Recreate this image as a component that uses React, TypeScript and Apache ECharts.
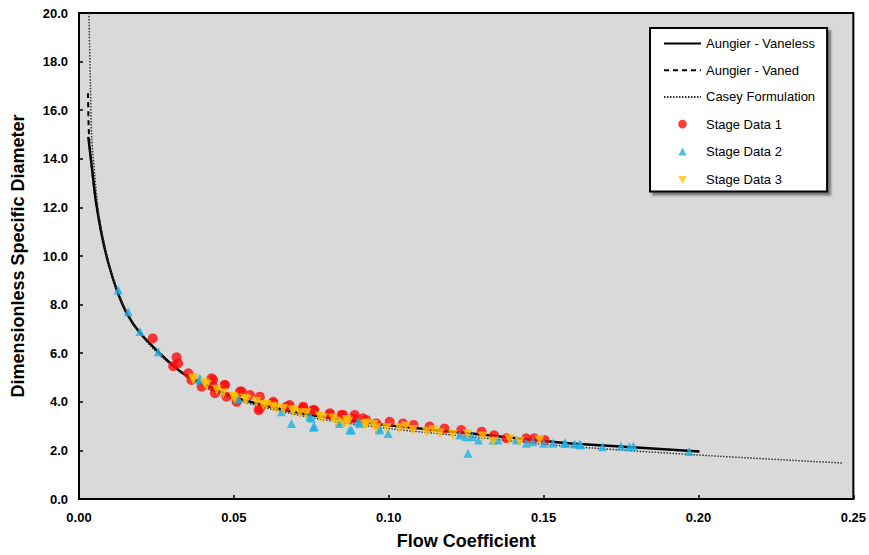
import React, { useEffect, useRef } from "react";
import * as echarts from "echarts";

const xTicks = [0, 0.05, 0.1, 0.15, 0.2, 0.25];
const yTicks = [0, 2, 4, 6, 8, 10, 12, 14, 16, 18, 20];

const vanelessCurve: [number, number][] = [
  [0.003, 14.9], [0.0042, 13.6], [0.0054, 12.3], [0.0073, 10.9], [0.0095, 9.7],
  [0.0122, 8.6], [0.0154, 7.65], [0.0197, 6.83], [0.0277, 5.8], [0.0335, 5.18],
  [0.04, 4.75], [0.05, 4.2], [0.06, 3.85], [0.075, 3.46], [0.09, 3.2],
  [0.1, 3.03], [0.125, 2.72], [0.155, 2.33], [0.18, 2.12], [0.2003, 1.95],
];

const vanedCurve: [number, number][] = [
  [0.0029, 16.7], [0.0031, 15.4], [0.0034, 14.6], [0.0042, 13.6], [0.0054, 12.3], [0.0073, 10.9],
];

const caseyCurve: [number, number][] = [
  [0.0032, 20.0], [0.0037, 17.0], [0.0041, 14.9], [0.0051, 13.3], [0.0062, 11.9],
  [0.0078, 10.7], [0.0098, 9.6], [0.0125, 8.5], [0.0157, 7.6], [0.02, 6.75],
  [0.028, 5.7], [0.04, 4.65], [0.05, 4.1], [0.075, 3.35], [0.1, 2.9],
  [0.125, 2.58], [0.155, 2.2], [0.2, 1.81], [0.2465, 1.48],
];

const stage1: [number, number][] = [
  [0.0238, 6.61], [0.0315, 5.83], [0.0304, 5.47], [0.032, 5.58], [0.0353, 5.17],
  [0.0363, 4.9], [0.0396, 4.62], [0.0428, 4.97], [0.0433, 4.62], [0.0439, 4.35],
  [0.0471, 4.69], [0.0476, 4.21], [0.0509, 4.0], [0.0525, 4.42], [0.0552, 4.28],
  [0.0584, 4.21], [0.0584, 3.73], [0.0627, 3.94], [0.067, 3.8], [0.0724, 3.73],
  [0.0756, 3.66], [0.0853, 3.46], [0.089, 3.46], [0.0433, 4.9], [0.047, 4.69],
  [0.052, 4.42], [0.058, 3.66], [0.0627, 4.0], [0.068, 3.87], [0.076, 3.66],
  [0.081, 3.46], [0.0885, 3.32], [0.0928, 3.25], [0.096, 3.11], [0.0724, 3.8],
  [0.081, 3.53], [0.0847, 3.46], [0.0917, 3.32], [0.1003, 3.18], [0.1046, 3.11],
  [0.1132, 2.98], [0.1234, 2.84], [0.13, 2.77], [0.138, 2.5], [0.1444, 2.5],
  [0.1503, 2.43], [0.147, 2.5], [0.108, 3.05], [0.118, 2.9], [0.134, 2.62],
];

const stage2: [number, number][] = [
  [0.0127, 8.6], [0.0159, 7.71], [0.0197, 6.89], [0.0256, 6.06], [0.039, 4.97],
  [0.0514, 4.14], [0.0654, 3.59], [0.0686, 3.11], [0.0745, 3.39], [0.076, 2.98],
  [0.0842, 3.11], [0.088, 2.84], [0.09, 3.18], [0.039, 4.9], [0.075, 3.32],
  [0.0756, 2.95], [0.084, 3.18], [0.0906, 3.11], [0.0847, 3.18], [0.0874, 2.84],
  [0.097, 2.91], [0.0998, 2.7], [0.1229, 2.63], [0.1256, 1.88], [0.127, 2.56],
  [0.1353, 2.43], [0.1412, 2.43], [0.1466, 2.36], [0.153, 2.29], [0.157, 2.29],
  [0.1616, 2.25], [0.1568, 2.29], [0.16, 2.26], [0.162, 2.22], [0.169, 2.15],
  [0.175, 2.18], [0.1777, 2.15], [0.179, 2.18], [0.197, 1.95], [0.097, 2.84],
  [0.125, 2.56], [0.129, 2.43], [0.1337, 2.43], [0.1444, 2.29], [0.15, 2.29],
];

const stage3: [number, number][] = [
  [0.0369, 4.97], [0.0406, 4.76], [0.0466, 4.35], [0.0498, 4.21], [0.0535, 4.14],
  [0.0573, 4.0], [0.0605, 3.87], [0.0691, 3.66], [0.0713, 3.53], [0.0777, 3.39],
  [0.082, 3.32], [0.0864, 3.25], [0.0369, 4.9], [0.0412, 4.69], [0.0503, 4.14],
  [0.0541, 4.07], [0.0595, 3.87], [0.0637, 3.73], [0.0691, 3.59], [0.0734, 3.53],
  [0.0853, 3.11], [0.0928, 3.11], [0.096, 2.91], [0.0788, 3.32], [0.0831, 3.18],
  [0.0869, 3.18], [0.0923, 3.05], [0.095, 3.05], [0.0993, 2.91], [0.1035, 2.91],
  [0.1078, 2.84], [0.1122, 2.77], [0.1165, 2.7], [0.1207, 2.63], [0.1304, 2.56],
  [0.1337, 2.36], [0.1423, 2.36], [0.1487, 2.43], [0.0445, 4.5], [0.066, 3.7],
  [0.1055, 2.98], [0.1145, 2.84], [0.1255, 2.66], [0.139, 2.45], [0.0625, 3.8],
];

const FONT = "Arial, 'Liberation Sans', sans-serif";

// legend icons drawn inside a 37x14 frame (degenerate corner points fix the frame)
const FRAME = "M0 0Z M37 14Z ";
const ICON_CIRCLE = "path://" + FRAME + "M14.2 7 A4.3 4.3 0 1 1 22.8 7 A4.3 4.3 0 1 1 14.2 7Z";
const ICON_TRI = "path://" + FRAME + "M18.5 2.8 L22.6 10.6 L14.4 10.6 Z";
const ICON_TRI_DOWN = "path://" + FRAME + "M14.4 3.6 L22.6 3.6 L18.5 11.4 Z";

export default function App() {
  const ref = useRef<HTMLDivElement>(null);

  useEffect(() => {
    document.body.style.margin = "0";
    if (!ref.current) return;
    const chart = echarts.init(ref.current, undefined, { renderer: "svg" });
    const hideSym = { opacity: 0 };
    chart.setOption({
      animation: false,
      backgroundColor: "#ffffff",
      textStyle: { fontFamily: FONT },
      grid: {
        left: 79,
        right: 15,
        top: 13,
        bottom: 56,
        show: true,
        backgroundColor: "#d9d9d9",
        borderColor: "#000000",
        borderWidth: 2,
      },
      legend: {
        orient: "vertical",
        left: 650,
        top: 28,
        itemWidth: 37,
        itemHeight: 14,
        itemGap: 13.7,
        padding: [9, 12, 5, 13],
        backgroundColor: "#ffffff",
        borderColor: "#000000",
        borderWidth: 2,
        shadowColor: "rgba(0,0,0,0.45)",
        shadowOffsetX: 3,
        shadowOffsetY: 3,
        shadowBlur: 2,
        textStyle: { fontFamily: FONT, fontSize: 13, color: "#000000" },
        data: [
          { name: "Aungier - Vaneless", itemStyle: hideSym },
          { name: "Aungier - Vaned", itemStyle: hideSym },
          { name: "Casey Formulation", itemStyle: hideSym },
          { name: "Stage Data 1", icon: ICON_CIRCLE },
          { name: "Stage Data 2", icon: ICON_TRI },
          { name: "Stage Data 3", icon: ICON_TRI_DOWN },
        ],
      },
      xAxis: {
        type: "value",
        min: xTicks[0],
        max: xTicks[xTicks.length - 1],
        interval: 0.05,
        name: "Flow Coefficient",
        nameLocation: "middle",
        nameGap: 33,
        nameTextStyle: { fontFamily: FONT, fontSize: 18, fontWeight: "bold", color: "#000" },
        axisLine: { show: true, lineStyle: { color: "#000", width: 2 } },
        axisTick: { show: true, inside: true, length: 4, lineStyle: { color: "#000", width: 1.5 } },
        axisLabel: {
          margin: 12,
          fontFamily: FONT,
          fontSize: 13,
          fontWeight: "bold",
          color: "#000",
          formatter: (v: number) => v.toFixed(2),
        },
        splitLine: { show: false },
      },
      yAxis: {
        type: "value",
        min: yTicks[0],
        max: yTicks[yTicks.length - 1],
        interval: 2,
        name: "Dimensionless Specific Diameter",
        nameLocation: "middle",
        nameGap: 52,
        nameTextStyle: { fontFamily: FONT, fontSize: 18, fontWeight: "bold", color: "#000" },
        axisLine: { show: true, lineStyle: { color: "#000", width: 2 } },
        axisTick: { show: true, inside: true, length: 4, lineStyle: { color: "#000", width: 1.5 } },
        axisLabel: {
          margin: 11,
          fontFamily: FONT,
          fontSize: 13,
          fontWeight: "bold",
          color: "#000",
          formatter: (v: number) => v.toFixed(1),
        },
        splitLine: { show: false },
      },
      series: [
        {
          name: "Aungier - Vaneless",
          type: "line",
          data: vanelessCurve,
          smooth: 0.3,
          showSymbol: false,
          symbol: "none",
          lineStyle: { color: "#000", width: 2.5 },
          itemStyle: { color: "#000" },
          z: 2,
        },
        {
          name: "Aungier - Vaned",
          type: "line",
          data: vanedCurve,
          smooth: 0.3,
          showSymbol: false,
          symbol: "none",
          lineStyle: { color: "#000", width: 2, type: [5, 4] },
          itemStyle: { color: "#000" },
          z: 2,
        },
        {
          name: "Casey Formulation",
          type: "line",
          data: caseyCurve,
          smooth: 0.3,
          showSymbol: false,
          symbol: "none",
          lineStyle: { color: "#333", width: 1.5, type: [1.5, 1.5] },
          itemStyle: { color: "#333" },
          z: 2,
        },
        {
          name: "Stage Data 1",
          type: "scatter",
          data: stage1,
          symbol: "circle",
          symbolSize: 10,
          itemStyle: { color: "#ff0a0a" },
          z: 3,
        },
        {
          name: "Stage Data 2",
          type: "scatter",
          data: stage2,
          symbol: "triangle",
          symbolSize: 9,
          itemStyle: { color: "#1fb0e6" },
          z: 3,
        },
        {
          name: "Stage Data 3",
          type: "scatter",
          data: stage3,
          symbol: "triangle",
          symbolRotate: 180,
          symbolSize: 10,
          itemStyle: { color: "#ffc000" },
          z: 3,
        },
      ],
    });
    return () => chart.dispose();
  }, []);

  return <div ref={ref} style={{ width: 869, height: 555 }} />;
}
